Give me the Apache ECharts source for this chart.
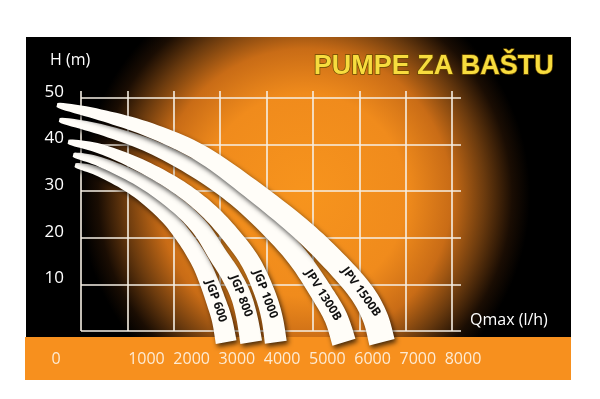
<!DOCTYPE html>
<html>
<head>
<meta charset="utf-8">
<script src="https://cdn.jsdelivr.net/npm/echarts@6/dist/echarts.min.js"></script>
<style>
  html, body { margin: 0; padding: 0; background: #ffffff; }
  #chart { width: 600px; height: 399px; }
</style>
</head>
<body>
<div id="chart"></div>
<script>
// Flow axis (l/h): the label row in the orange band, and the grid range
const qTickLabels = ['0', '', '1000', '2000', '3000', '4000', '5000', '6000', '7000', '8000'];
const qMin = 0, qMax = 8000, qStep = 1000;
// Head axis (m)
const hMin = 0, hMax = 50, hStep = 10;

// Pump models and their head/flow curves [Q (l/h), H (m)]
const pumpNames = ['JGP 600', 'JGP 800', 'JGP 1000', 'JPV 1300B', 'JPV 1500B'];
const jgp600   = [[-130, 35.6], [410, 34.1], [1160, 30.3], [1810, 25.1], [2240, 20.0], [2570, 14.8], [2760, 10.5], [2910, 6.4], [3040, 2.4], [3130, -2.4]];
const jgp800   = [[-170, 37.8], [410, 36.3], [1270, 32.4], [2030, 27.3], [2570, 22.1], [2950, 16.3], [3230, 12.0], [3450, 7.5], [3580, 2.8], [3670, -2.4]];
const jgp1000  = [[-280, 40.6], [410, 39.1], [1270, 35.6], [2130, 30.7], [2780, 25.5], [3320, 19.5], [3690, 14.2], [3970, 7.9], [4120, 2.8], [4200, -2.4]];
const jpv1300b = [[-470, 45.3], [410, 43.3], [1490, 39.7], [2570, 34.1], [3430, 28.1], [4180, 21.2], [4720, 15.2], [5220, 7.7], [5500, 2.8], [5670, -2.4]];
const jpv1500b = [[-520, 48.5], [410, 46.4], [1490, 43.1], [2570, 38.2], [3640, 30.7], [4720, 22.1], [5480, 14.8], [6040, 8.4], [6340, 3.0], [6490, -2.4]];
const pumpCurves = [jgp600, jgp800, jgp1000, jpv1300b, jpv1500b];

// Ribbon thickness (px) at the tip and at the far end of each curve
const ribbonStart = 4;
const ribbonEnd = [21, 22, 22, 24, 26];
const labelPointIndex = 7;

const SANS = "'Open Sans', sans-serif";

// Catmull-Rom smoothing of the pixel path for drawing
function smoothPath(pts, steps) {
  const out = [];
  for (let i = 0; i < pts.length - 1; i++) {
    const p0 = pts[Math.max(i - 1, 0)], p1 = pts[i], p2 = pts[i + 1], p3 = pts[Math.min(i + 2, pts.length - 1)];
    for (let s = 0; s < steps; s++) {
      const t = s / steps, t2 = t * t, t3 = t2 * t;
      out.push([0, 1].map(k => 0.5 * ((2 * p1[k]) + (-p0[k] + p2[k]) * t +
        (2 * p0[k] - 5 * p1[k] + 4 * p2[k] - p3[k]) * t2 +
        (-p0[k] + 3 * p1[k] - 3 * p2[k] + p3[k]) * t3)));
    }
  }
  out.push(pts[pts.length - 1]);
  return out;
}

function renderRibbon(params, api) {
  const idx = api.value(0);
  const px = pumpCurves[idx].map(p => api.coord(p));
  const path = smoothPath(px, 10);
  // cumulative length for tapering
  const len = [0];
  for (let i = 1; i < path.length; i++) {
    len.push(len[i - 1] + Math.hypot(path[i][0] - path[i - 1][0], path[i][1] - path[i - 1][1]));
  }
  const total = len[len.length - 1];
  const upper = [], lower = [];
  for (let i = 0; i < path.length; i++) {
    const a = path[Math.max(i - 1, 0)], b = path[Math.min(i + 1, path.length - 1)];
    let dx = b[0] - a[0], dy = b[1] - a[1];
    const d = Math.hypot(dx, dy) || 1;
    dx /= d; dy /= d;
    const w = ribbonStart + (ribbonEnd[idx] - ribbonStart) * Math.pow(len[i] / total, 0.5);
    const nx = -dy, ny = dx;
    upper.push([path[i][0] - nx * w / 2, path[i][1] - ny * w / 2]);
    lower.push([path[i][0] + nx * w / 2, path[i][1] + ny * w / 2]);
  }
  const poly = upper.concat(lower.reverse());
  const a = px[labelPointIndex - 1], c = px[labelPointIndex + 1], m = px[labelPointIndex];
  const ang = Math.atan2(c[1] - a[1], c[0] - a[0]);
  return {
    type: 'group',
    children: [
      {
        type: 'polygon',
        shape: { points: poly },
        style: {
          fill: '#fffdf8',
          shadowColor: 'rgba(0,0,0,0.7)',
          shadowBlur: 5,
          shadowOffsetX: 2,
          shadowOffsetY: 3
        }
      },
      {
        type: 'text',
        x: m[0], y: m[1],
        rotation: -ang,
        style: {
          text: pumpNames[idx],
          fill: '#111111',
          font: "bold 12px " + SANS,
          align: 'center',
          verticalAlign: 'middle'
        }
      }
    ]
  };
}

const gridLine = { show: true, lineStyle: { color: '#f6efe4', width: 1.6 } };
const hidden = { show: false };

const chart = echarts.init(document.getElementById('chart'), null, { renderer: 'canvas' });
chart.setOption({
  backgroundColor: '#ffffff',
  animation: false,
  graphic: [
    {
      type: 'rect', z: -2, silent: true,
      shape: { x: 26, y: 37, width: 545, height: 300 },
      style: {
        fill: new echarts.graphic.RadialGradient(0.512, 0.527, 0.75, [
          { offset: 0, color: '#f7941d' },
          { offset: 0.45, color: '#f08b1c' },
          { offset: 0.65, color: '#c96c16' },
          { offset: 0.8, color: '#6a3a0e' },
          { offset: 0.92, color: '#1a0d03' },
          { offset: 1, color: '#000000' }
        ])
      }
    },
    {
      type: 'rect', z: -2, silent: true,
      shape: { x: 25, y: 337, width: 546, height: 43 },
      style: { fill: '#f7901e' }
    },
    {
      type: 'text', z: 100, left: 50, top: 52,
      style: { text: 'H (m)', fill: '#ffffff', font: '16px ' + SANS }
    },
    {
      type: 'text', z: 100, left: 470, top: 312,
      style: { text: 'Qmax (l/h)', fill: '#ffffff', font: '16px ' + SANS }
    },
    {
      type: 'text', z: 100, left: 313, top: 52,
      style: {
        text: 'PUMPE ZA BAŠTU',
        font: "bold 27px 'Liberation Sans', sans-serif",
        fill: '#f7dc3e',
        stroke: '#6b4c00',
        lineWidth: 1.5,
        shadowColor: 'rgba(0,0,0,0.6)',
        shadowBlur: 3,
        shadowOffsetX: 1,
        shadowOffsetY: 2
      }
    }
  ],
  grid: [
    { left: 81, right: 148, top: 91, bottom: 68 },   // vertical grid lines
    { left: 81, right: 139, top: 98, bottom: 68 },   // horizontal grid lines + head labels
    { left: 81, right: 148, top: 98, bottom: 68 },   // pump curves
    { left: 56, right: 137, top: 300, bottom: 54 }   // flow tick labels
  ],
  xAxis: [
    { gridIndex: 0, type: 'value', min: qMin, max: qMax, interval: qStep,
      axisLine: hidden, axisTick: hidden, axisLabel: hidden, splitLine: gridLine },
    { gridIndex: 1, type: 'value', min: qMin, max: qMax, show: false },
    { gridIndex: 2, type: 'value', min: qMin, max: qMax, show: false },
    { gridIndex: 3, type: 'category', data: qTickLabels, boundaryGap: false,
      axisLine: hidden, axisTick: hidden, splitLine: hidden,
      axisLabel: { interval: 0, margin: 6, color: '#fdebd3', fontSize: 16, fontFamily: SANS } }
  ],
  yAxis: [
    { gridIndex: 0, type: 'value', min: 0, max: 1, show: false },
    { gridIndex: 1, type: 'value', min: hMin, max: hMax, interval: hStep,
      axisLine: hidden, axisTick: hidden, splitLine: gridLine,
      axisLabel: { showMinLabel: false, margin: 17, color: '#ffffff', fontSize: 17,
        fontFamily: SANS, verticalAlign: 'bottom', lineHeight: 12 } },
    { gridIndex: 2, type: 'value', min: hMin, max: hMax, show: false },
    { gridIndex: 3, type: 'value', show: false }
  ],
  series: [
    {
      type: 'custom',
      xAxisIndex: 2,
      yAxisIndex: 2,
      clip: false,
      renderItem: renderRibbon,
      data: pumpCurves.map((c, i) => [i]),
      encode: { x: -1, y: -1 },
      z: 5
    }
  ]
});
</script>
</body>
</html>
